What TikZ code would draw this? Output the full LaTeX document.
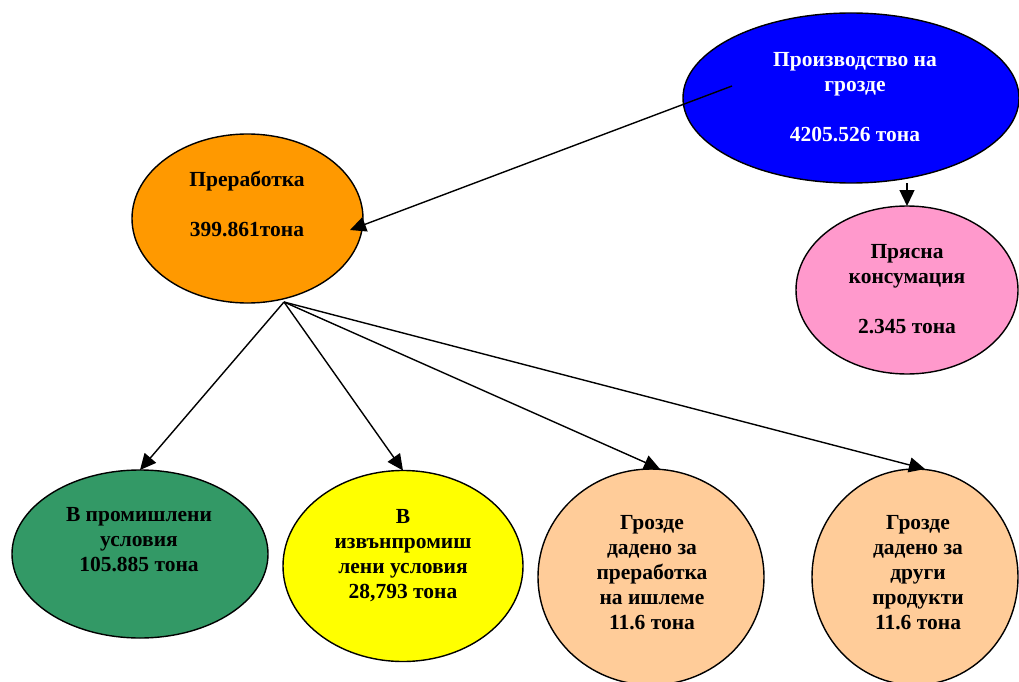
\documentclass[tikz,border=0pt]{standalone}
\usepackage{fontspec}
\setmainfont{Liberation Serif}
\usetikzlibrary{shapes.geometric,arrows.meta,calc}
\definecolor{cblue}{HTML}{0000FF}
\definecolor{corange}{HTML}{FF9900}
\definecolor{cpink}{HTML}{FF99CC}
\definecolor{cgreen}{HTML}{339966}
\definecolor{cyellow}{HTML}{FFFF00}
\definecolor{cpeach}{HTML}{FFCC99}
\begin{document}
\begin{tikzpicture}[x=1pt,y={(0pt,-1pt)},
  oval/.style={ellipse,draw=black,line width=1.4pt,inner sep=0pt,outer sep=0pt},
  txt/.style={align=center,inner sep=0pt,font=\fontsize{21.5}{25}\selectfont\bfseries},
  arr/.style={line width=1.4pt,-{Triangle[length=16pt,width=15pt]}}]
\useasboundingbox (0,0) rectangle (1019,682);
\fill[white] (0,0) rectangle (1019,682);
% ellipses
\node[oval,fill=cblue,minimum width=336pt,minimum height=170pt] (blue) at (851,98) {};
\node[oval,fill=corange,minimum width=231pt,minimum height=169pt] (orange) at (247.5,218.5) {};
\node[oval,fill=cpink,minimum width=222pt,minimum height=168pt] (pink) at (907,290) {};
\node[oval,fill=cgreen,minimum width=256pt,minimum height=168pt] (green) at (140,554) {};
\node[oval,fill=cyellow,minimum width=240pt,minimum height=191pt] (yellow) at (403,566) {};
\node[oval,fill=cpeach,minimum width=226pt,minimum height=216pt] (peachA) at (651,577) {};
\node[oval,fill=cpeach,minimum width=206pt,minimum height=216pt] (peachB) at (915,577) {};
% texts
\node[txt,text=white] (tblue) at (855,97.5) {Производство на\\грозде\\~\\4205.526 тона};
\node[txt] (torange) at (247,204) {Преработка\\~\\399.861тона};
\node[txt] (tpink) at (907,289.5) {Прясна\\консумация\\~\\2.345 тона};
\node[txt] (tgreen) at (139,540) {В промишлени\\условия\\105.885 тона};
\node[txt] (tyellow) at (403,555.5) {В\\извънпромиш\\лени условия\\28,793 тона};
\node[txt] (tpeachA) at (652,573) {Грозде\\дадено за\\преработка\\на ишлеме\\11.6 тона};
\node[txt] (tpeachB) at (918,573) {Грозде\\дадено за\\други\\продукти\\11.6 тона};
% connectors
\coordinate (bstart) at (732,86);
\coordinate (otip) at (350,230);
\coordinate (obase) at (284,302);
\draw[arr] (bstart) -- (otip);
\draw[arr] (pink.north |- blue.south) -- (pink.north);
\draw[arr] (obase) -- (green.north);
\draw[arr] (obase) -- (yellow.north);
\draw[arr] (obase) -- ($(peachA.north)+(9,0)$);
\draw[arr] (obase) -- ($(peachB.north)+(10,0)$);
\end{tikzpicture}
\end{document}
